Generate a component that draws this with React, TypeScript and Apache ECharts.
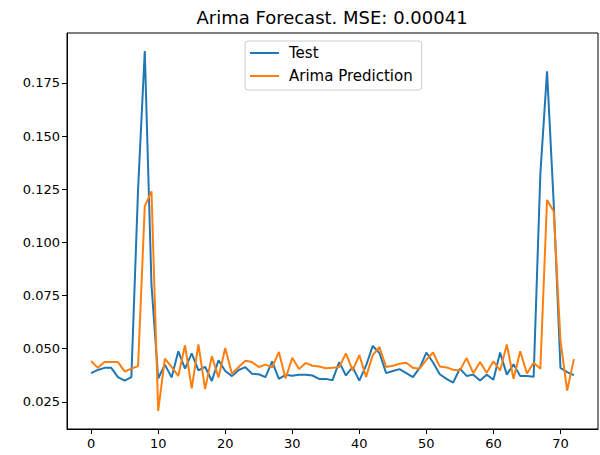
import React, { useEffect, useRef } from "react";
import * as echarts from "echarts";

const chartTitle = "Arima Forecast. MSE: 0.00041";
const seriesNames = ["Test", "Arima Prediction"];
const xTicks = [0, 10, 20, 30, 40, 50, 60, 70];
const yTicks = [0.025, 0.05, 0.075, 0.1, 0.125, 0.15, 0.175];

const testValues = [
  0.0385, 0.04, 0.041, 0.041, 0.0366, 0.035, 0.0366, 0.125, 0.19, 0.08,
  0.036, 0.0425, 0.0365, 0.0488, 0.0406, 0.0478, 0.0398, 0.0415, 0.0348, 0.0446,
  0.0395, 0.0371, 0.04, 0.0413, 0.0382, 0.038, 0.0366, 0.044, 0.0358, 0.0377,
  0.0373, 0.0377, 0.0377, 0.0374, 0.0358, 0.0358, 0.0352, 0.0437, 0.0374, 0.0413,
  0.035, 0.042, 0.0513, 0.048, 0.0385, 0.0395, 0.0404, 0.0385, 0.0366, 0.041,
  0.0482, 0.0435, 0.038, 0.0358, 0.0341, 0.0406, 0.0372, 0.0378, 0.035, 0.0378,
  0.0354, 0.0482, 0.0378, 0.0427, 0.0372, 0.0372, 0.0368, 0.132, 0.1805, 0.118,
  0.041, 0.039, 0.0376,
];

const predValues = [
  0.0442, 0.041, 0.0437, 0.0437, 0.0437, 0.0393, 0.0406, 0.0418, 0.117, 0.124,
  0.0207, 0.0453, 0.0414, 0.0372, 0.0516, 0.0313, 0.052, 0.031, 0.0465, 0.0365,
  0.0503, 0.0382, 0.0414, 0.0443, 0.0437, 0.0414, 0.0425, 0.0412, 0.0485, 0.036,
  0.0457, 0.0404, 0.0433, 0.042, 0.0416, 0.0408, 0.041, 0.0414, 0.0478, 0.0398,
  0.047, 0.0367, 0.047, 0.0508, 0.0414, 0.042, 0.0429, 0.0434, 0.041, 0.0406,
  0.0448, 0.0482, 0.0416, 0.0412, 0.0401, 0.0398, 0.0456, 0.0385, 0.0437, 0.0387,
  0.0441, 0.0398, 0.052, 0.0358, 0.0488, 0.0383, 0.0434, 0.0406, 0.12, 0.1145,
  0.054, 0.0303, 0.0451,
];

const FONT = "DejaVu Sans";

export default function App() {
  const ref = useRef<HTMLDivElement>(null);
  useEffect(() => {
    if (!ref.current) return;
    const chart = echarts.init(ref.current, null, { renderer: "svg" });
    const toPairs = (arr: number[]) => arr.map((v, i) => [i, v]);
    chart.setOption({
      animation: false,
      backgroundColor: "#fff",
      title: {
        text: chartTitle,
        left: 332,
        top: 8,
        padding: 0,
        textAlign: "center",
        textStyle: { fontFamily: FONT, fontSize: 18, fontWeight: "normal", color: "#000" },
      },
      legend: {
        orient: "vertical",
        left: 245,
        top: 41,
        padding: [4, 9, 6, 5],
        icon: "rect",
        itemWidth: 29,
        itemHeight: 2,
        itemGap: 7,
        borderColor: "#ccc",
        borderWidth: 1,
        borderRadius: 3,
        backgroundColor: "rgba(255,255,255,0.8)",
        textStyle: {
          fontFamily: FONT,
          fontSize: 15,
          lineHeight: 16,
          color: "#000",
          padding: [0, 0, 0, 5],
        },
        data: seriesNames,
      },
      grid: {
        left: 67,
        right: 2,
        top: 33,
        bottom: 26,
        show: true,
        borderColor: "#000",
        borderWidth: 1,
        backgroundColor: "transparent",
      },
      xAxis: {
        type: "value",
        min: -3.6,
        max: 75.6,
        axisLine: { show: true, onZero: false, lineStyle: { color: "#000", width: 1 } },
        axisTick: { show: true, length: 5, lineStyle: { color: "#000" }, customValues: xTicks },
        axisLabel: {
          fontFamily: FONT,
          fontSize: 13,
          color: "#000",
          margin: 8,
          customValues: xTicks,
        },
        splitLine: { show: false },
      },
      yAxis: {
        type: "value",
        min: 0.01223,
        max: 0.1985,
        axisLine: { show: true, onZero: false, lineStyle: { color: "#000", width: 1 } },
        axisTick: { show: true, length: 5, lineStyle: { color: "#000" }, customValues: yTicks },
        axisLabel: {
          fontFamily: FONT,
          fontSize: 13,
          color: "#000",
          margin: 7,
          customValues: yTicks,
          formatter: (v: number) => v.toFixed(3),
        },
        splitLine: { show: false },
      },
      series: [
        {
          name: seriesNames[0],
          type: "line",
          data: toPairs(testValues),
          symbol: "none",
          lineStyle: { color: "#1f77b4", width: 2 },
          itemStyle: { color: "#1f77b4" },
        },
        {
          name: seriesNames[1],
          type: "line",
          data: toPairs(predValues),
          symbol: "none",
          lineStyle: { color: "#ff7f0e", width: 2 },
          itemStyle: { color: "#ff7f0e" },
        },
      ],
    });
    return () => chart.dispose();
  }, []);
  return (
    <div
      ref={ref}
      style={{ position: "absolute", left: 0, top: 0, width: 600, height: 455, background: "#fff" }}
    />
  );
}
